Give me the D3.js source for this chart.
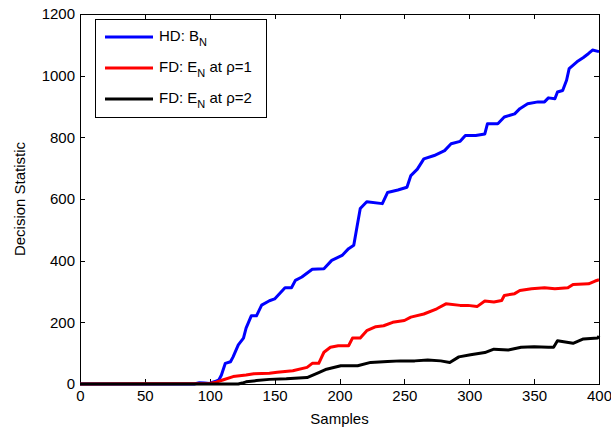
<!DOCTYPE html>
<html>
<head>
<meta charset="UTF-8">
<title>Decision Statistic</title>
<script src="https://cdn.jsdelivr.net/npm/d3@7"></script>
<style type="text/css">
body, html {
    margin: 0;
    padding: 0;
    background: #fff;
}

.axis text {
    font: 15px "Liberation Sans", Arial, sans-serif;
    fill: #000;
}

.axis line {
    stroke: #000;
    shape-rendering: crispEdges;
}

.label {
    font: 15px "Liberation Sans", Arial, sans-serif;
}
</style>
</head>
<body>

<div class="chart"></div>

<script type="text/javascript">
var hdX  = [0, 88, 92, 96, 100, 104, 107, 109, 112, 116, 118, 122, 126, 128, 132, 136, 140, 146, 150, 158,
            163, 166, 171, 179, 188, 194, 202, 207, 211, 213.5, 216, 221, 233, 237, 245, 252, 255, 260, 265, 273,
            281, 286, 293, 297, 305, 312, 314, 322, 327, 335, 339, 345, 353, 358, 361, 366, 368, 372, 375, 377,
            383, 388, 392, 395, 400];
var hdY  = [0, 0, 4, 3, 2, 8, 13, 29, 67, 72, 88, 127, 149, 181, 221, 221, 256, 270, 276, 312,
            312, 336, 347, 372, 374, 401, 417, 439, 450, 510, 569, 591, 585, 621, 629, 638, 676, 697, 730, 741,
            757, 779, 787, 806, 806, 811, 844, 844, 866, 876, 893, 909, 915, 915, 928, 925, 947, 952, 985, 1023,
            1045, 1059, 1072, 1083, 1078];

var fd1X = [0, 100, 105, 110, 118, 128, 134, 146, 152, 164, 175, 179, 184, 188, 193, 199, 207, 210, 216, 221,
            228, 234, 241, 250, 255, 265, 275, 282, 293, 299, 306, 312, 319, 325, 327, 335, 339, 348, 358, 366,
            376, 380, 392, 397, 400];
var fd1Y = [0, 2, 6, 13, 24, 29, 33, 35, 38, 43, 54, 67, 67, 103, 119, 124, 124, 149, 149, 173,
            186, 189, 200, 206, 217, 227, 244, 260, 255, 255, 251, 269, 266, 271, 287, 293, 303, 309, 312, 309,
            312, 323, 325, 334, 338];

var fd2X = [0, 122, 125, 128, 136, 146, 159, 175, 184, 190, 201, 214, 224, 237, 247, 258, 268, 278, 285, 292,
            301, 312, 319, 330, 340, 350, 361, 365, 368, 380, 388, 399, 400];
var fd2Y = [0, 0, 3, 7, 11, 15, 17, 21, 37, 48, 59, 59, 70, 73, 75, 75, 78, 75, 70, 88,
            95, 102, 113, 110, 119, 121, 119, 119, 140, 132, 146, 149, 156];

var xTicks = [0, 50, 100, 150, 200, 250, 300, 350, 400];
var yTicks = [0, 200, 400, 600, 800, 1000, 1200];

var margin = {top: 14, right: 12, bottom: 47, left: 80},
    width  = 611 - margin.left - margin.right,
    height = 431 - margin.top - margin.bottom;

var x = d3.scaleLinear().domain([0, 400]).range([0, width]);
var y = d3.scaleLinear().domain([0, 1200]).range([height, 0]);

var fmt = d3.format("d");

var svg = d3.select(".chart")
    .append("svg")
    .attr("width", 611)
    .attr("height", 431)
    .append("g")
    .attr("transform", "translate(" + margin.left + "," + margin.top + ")");

// ticks point inwards on all four sides
svg.append("g")
    .attr("class", "axis")
    .attr("transform", "translate(0," + height + ")")
    .call(d3.axisBottom(x).tickValues(xTicks).tickFormat(fmt).tickSizeInner(-5).tickSizeOuter(0).tickPadding(6))
    .call(function (g) { g.select(".domain").remove(); });

svg.append("g")
    .attr("class", "axis")
    .call(d3.axisLeft(y).tickValues(yTicks).tickFormat(fmt).tickSizeInner(-5).tickSizeOuter(0).tickPadding(5))
    .call(function (g) { g.select(".domain").remove(); });

svg.append("g")
    .attr("class", "axis")
    .call(d3.axisTop(x).tickValues(xTicks).tickSizeInner(-5).tickSizeOuter(0).tickFormat(""))
    .call(function (g) { g.select(".domain").remove(); });

svg.append("g")
    .attr("class", "axis")
    .attr("transform", "translate(" + width + ",0)")
    .call(d3.axisRight(y).tickValues(yTicks).tickSizeInner(-5).tickSizeOuter(0).tickFormat(""))
    .call(function (g) { g.select(".domain").remove(); });

svg.append("rect")
    .attr("width", width)
    .attr("height", height)
    .attr("fill", "none")
    .attr("stroke", "#000")
    .attr("shape-rendering", "crispEdges");

var line = d3.line()
    .x(function (d) { return x(d[0]); })
    .y(function (d) { return y(d[1]); });

var series = [
    {xs: hdX,  ys: hdY,  color: "#0000ff"},
    {xs: fd1X, ys: fd1Y, color: "#ff0000"},
    {xs: fd2X, ys: fd2Y, color: "#000000"}
];

series.forEach(function (s) {
    svg.append("path")
        .datum(d3.zip(s.xs, s.ys))
        .attr("fill", "none")
        .attr("stroke", s.color)
        .attr("stroke-width", 3)
        .attr("stroke-linejoin", "round")
        .attr("d", line);
});

// axis titles
svg.append("text")
    .attr("class", "label")
    .attr("x", width / 2)
    .attr("y", height + 40)
    .attr("text-anchor", "middle")
    .text("Samples");

svg.append("text")
    .attr("class", "label")
    .attr("transform", "rotate(-90)")
    .attr("x", -height / 2)
    .attr("y", -55)
    .attr("text-anchor", "middle")
    .text("Decision Statistic");

// legend
var legend = svg.append("g")
    .attr("transform", "translate(15,5)");

legend.append("rect")
    .attr("width", 171)
    .attr("height", 98)
    .attr("fill", "#fff")
    .attr("stroke", "#000")
    .attr("shape-rendering", "crispEdges");

var entries = [
    {main: "HD: B", sub: "N", rest: "", color: "#0000ff"},
    {main: "FD: E", sub: "N", rest: " at \u03c1=1", color: "#ff0000"},
    {main: "FD: E", sub: "N", rest: " at \u03c1=2", color: "#000000"}
];

entries.forEach(function (e, i) {
    var ly = 18 + i * 31;
    legend.append("line")
        .attr("x1", 10)
        .attr("x2", 58)
        .attr("y1", ly)
        .attr("y2", ly)
        .attr("stroke", e.color)
        .attr("stroke-width", 3);
    var t = legend.append("text")
        .attr("class", "label")
        .attr("x", 64)
        .attr("y", ly + 3.5);
    t.append("tspan").text(e.main);
    t.append("tspan").attr("dy", 5).attr("font-size", "11px").text(e.sub);
    if (e.rest) t.append("tspan").attr("dy", -5).text(e.rest);
});
</script>
</body>
</html>
